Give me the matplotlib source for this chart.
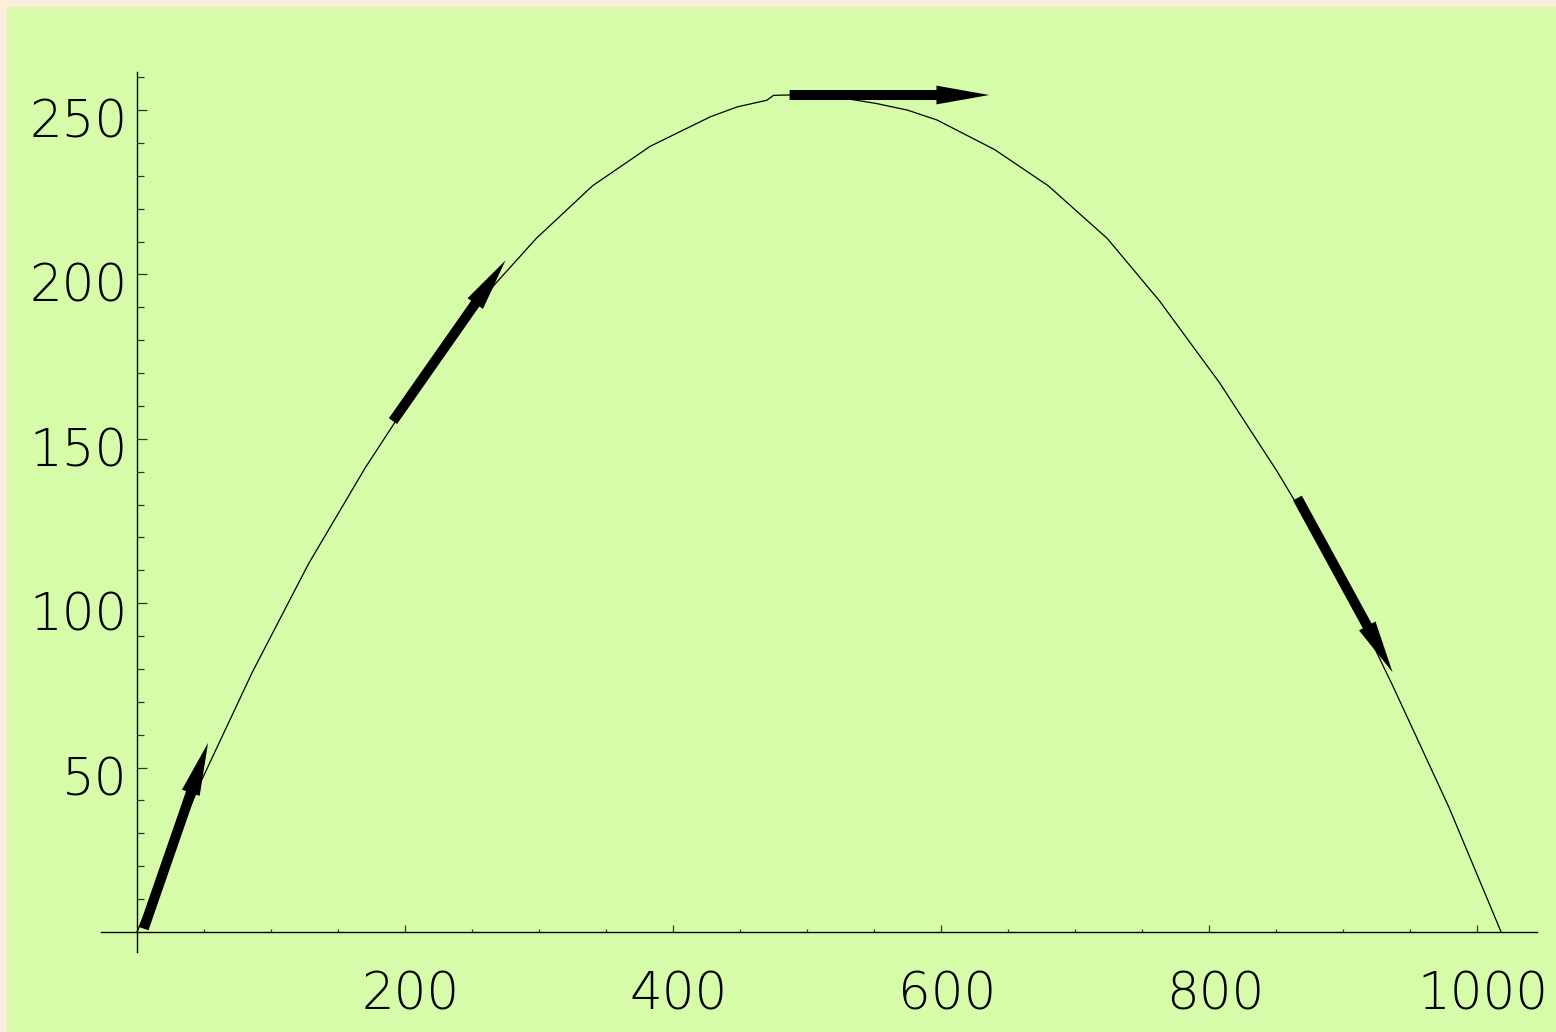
import matplotlib
matplotlib.use("Agg")
import matplotlib.pyplot as plt
from matplotlib.patches import Rectangle, FancyArrowPatch, ArrowStyle
from matplotlib.transforms import ScaledTranslation

# ---- data ----
path_x = [0, 48, 86, 128, 170, 226, 267, 298, 340, 383, 428, 448, 470, 475, 486,
          510, 552, 575, 597, 640, 680, 724, 763, 808, 851, 898, 937, 979, 1018]
path_y = [0, 46, 79, 112, 141, 176, 197, 211, 227, 239, 248, 251, 253, 254.5, 254.6,
          254.8, 252, 250, 247, 238, 227, 211, 192, 167, 140, 108, 75, 38, 0]

arrow_tail_x = [5, 191, 487, 866]
arrow_tail_y = [1, 155.4, 254.6, 132]
arrow_tip_x = [53, 275, 636, 937]
arrow_tip_y = [57.5, 204.3, 254.6, 79]

x_major = [200, 400, 600, 800, 1000]
x_labels = ["200", "400", "600", "800", "1000"]
x_minor = [v for v in range(50, 1000, 50) if v % 200 != 0]
y_major = [50, 100, 150, 200, 250]
y_labels = ["50", "100", "150", "200", "250"]
y_minor = [v for v in range(10, 270, 10) if v % 50 != 0]

W, H, DPI = 1556, 1032, 100
BEIGE = "#fbeedc"
GREEN = "#d6fcaa"

fig = plt.figure(figsize=(W / DPI, H / DPI), dpi=DPI, facecolor=BEIGE)
fig.patches.append(Rectangle((7 / W, 0), 1 - 7 / W, 1 - 7 / H, transform=fig.transFigure,
                             facecolor=GREEN, edgecolor="none", zorder=-5))

left_px, right_px, top_px, bottom_px = 101, 1537, 72, 952
ax = fig.add_axes([left_px / W, (H - bottom_px) / H,
                   (right_px - left_px) / W, (bottom_px - top_px) / H])
ax.set_zorder(2)
ax.set_facecolor("none")
ax.set_xlim(-26.9, 1044.8)
ax.set_ylim(-6.1, 261.6)

for s in ("top", "right"):
    ax.spines[s].set_visible(False)
ax.spines["left"].set_position(("data", 0))
ax.spines["bottom"].set_position(("data", 0))
for s in ("left", "bottom"):
    ax.spines[s].set_linewidth(1.0)
    ax.spines[s].set_color("black")

ax.set_xticks(x_major)
ax.set_xticklabels(x_labels)
ax.set_xticks(x_minor, minor=True)
ax.set_yticks(y_major)
ax.set_yticklabels(y_labels)
ax.set_yticks(y_minor, minor=True)

font = dict(family="DejaVu Sans", size=37, weight="light")
ax.tick_params(axis="x", which="major", direction="in", length=5, width=0.9,
               color="#333333", pad=28)
ax.tick_params(axis="x", which="minor", direction="in", length=2.5, width=0.9,
               color="#333333")
ax.tick_params(axis="y", which="major", direction="in", length=7.2, width=0.9,
               color="#333333", pad=7)
ax.tick_params(axis="y", which="minor", direction="in", length=4.7, width=0.9,
               color="#333333")
for lab in ax.get_xticklabels():
    lab.set_fontfamily(font["family"])
    lab.set_fontsize(font["size"])
    lab.set_fontweight(font["weight"])
    lab.set_transform(lab.get_transform() + ScaledTranslation(0.06, 0, fig.dpi_scale_trans))
for lab in ax.get_yticklabels():
    lab.set_fontfamily(font["family"])
    lab.set_fontsize(font["size"])
    lab.set_fontweight(font["weight"])
    lab.set_transform(lab.get_transform() + ScaledTranslation(0, -0.08, fig.dpi_scale_trans))

ax.plot(path_x, path_y, color="black", lw=0.9, zorder=3)

style = ArrowStyle("Simple", head_length=38, head_width=13.5, tail_width=7.2)
for tx, ty, hx, hy in zip(arrow_tail_x, arrow_tail_y, arrow_tip_x, arrow_tip_y):
    ax.add_patch(FancyArrowPatch((tx, ty), (hx, hy), arrowstyle=style, mutation_scale=1,
                                 shrinkA=0, shrinkB=0, color="black", lw=0, zorder=4))

fig.savefig("out.png", dpi=DPI, facecolor=BEIGE)
